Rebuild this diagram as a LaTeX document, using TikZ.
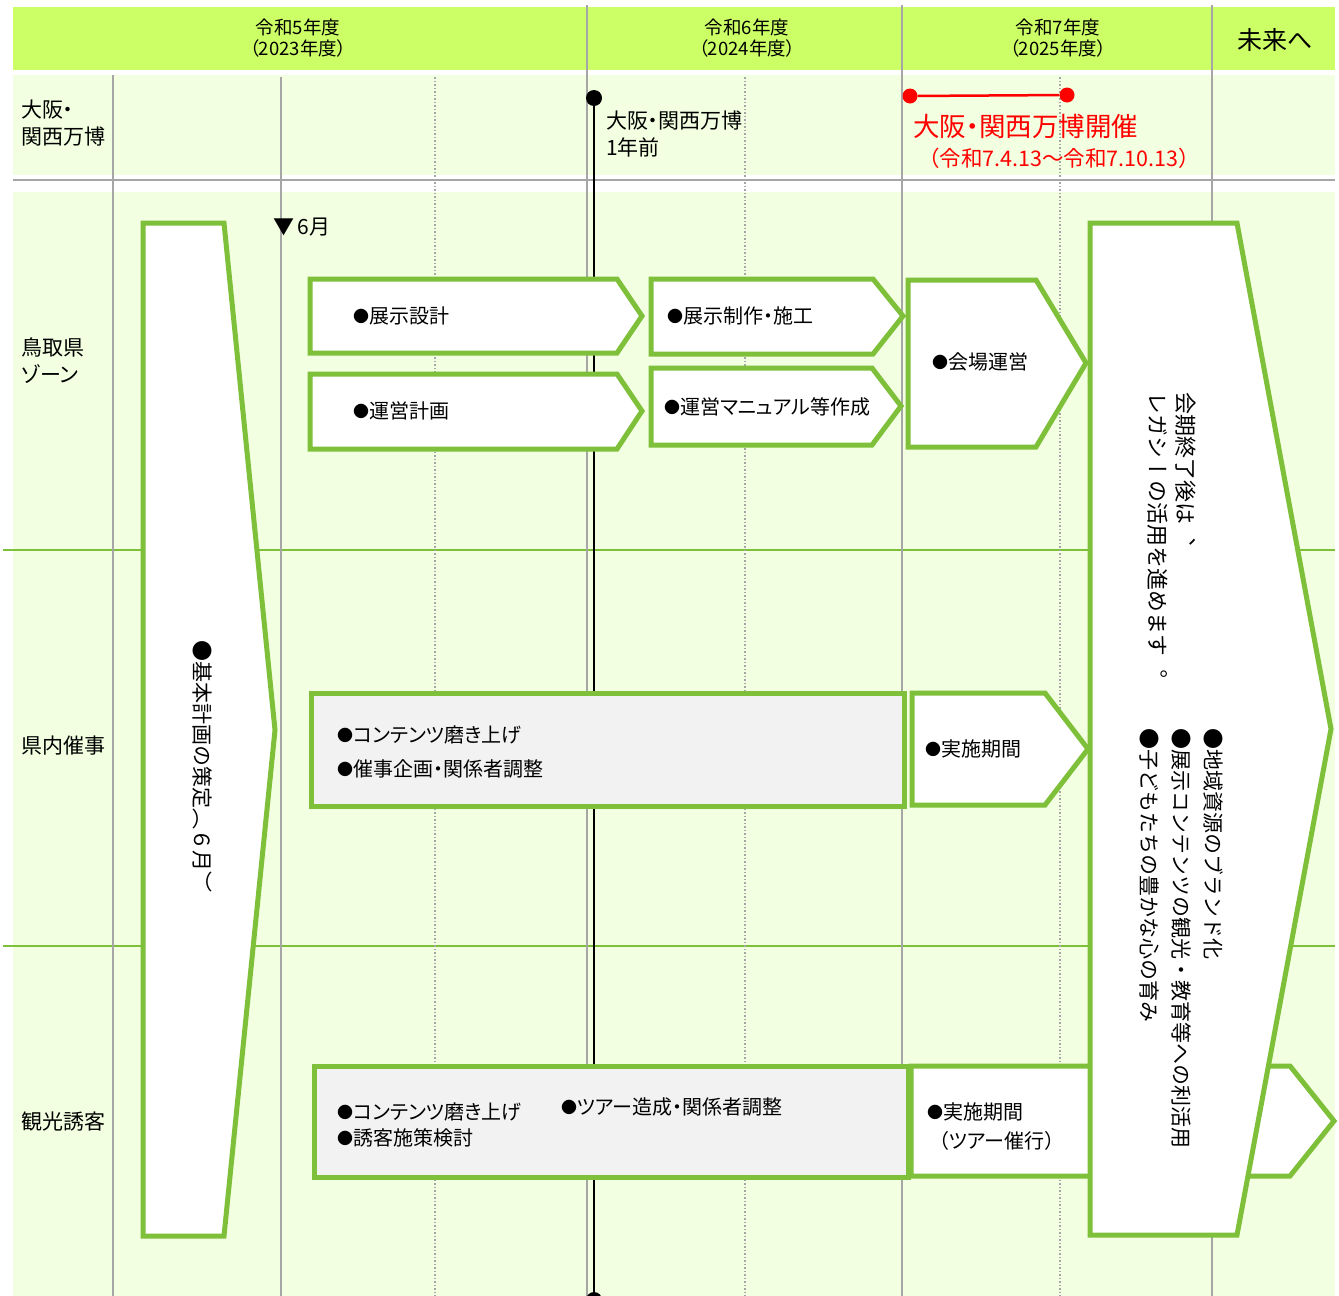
\documentclass[tikz,border=0pt]{standalone}
\usepackage{fontspec}
\setmainfont[RawFeature=+palt]{Noto Sans CJK JP}
\newfontfamily\tatefont[Vertical=RotatedGlyphs]{Noto Sans CJK JP}
\newfontfamily\widefont{Noto Sans CJK JP}
\newcommand{\listdot}{\raisebox{1.5pt}{\fontsize{16}{16}\selectfont ●}}
\definecolor{headgreen}{HTML}{CCFF66}
\definecolor{palegreen}{HTML}{F2FFE0}
\definecolor{bargreen}{HTML}{7FC03A}
\definecolor{gridgray}{HTML}{A6A6A6}
\definecolor{boxgray}{HTML}{F2F2F2}

\begin{document}
\begin{tikzpicture}[x=1pt, y=-1pt, inner sep=0pt, font=\fontsize{20}{27}\selectfont,
  grid/.style={draw=gridgray, line width=2pt},
  subgrid/.style={draw=gridgray, line width=1.5pt, dotted},
  rowline/.style={draw=bargreen, line width=2.5pt},
  bar/.style={draw=bargreen, line width=5pt, fill=white, line join=miter},
  graybar/.style={bar, fill=boxgray},
  milestone/.style={circle, fill, minimum size=16pt},
  year/.style={align=center, font=\fontsize{18.5}{21}\selectfont},
  rowlabel/.style={right, align=left, font=\fontsize{21}{27}\selectfont},
  tate/.style={rotate=-90, right, align=left, font=\tatefont\fontsize{21}{#1}\selectfont}]
\useasboundingbox (0,0) rectangle (1339,1296);
\fill[headgreen] (13,7) rectangle (1335,70);
\fill[palegreen] (13,75) rectangle (1335,175);
\fill[palegreen] (13,192) rectangle (1335,1296);
\draw[grid] (13,180) -- (1335,180);
\draw[rowline] (3,550) -- (1335,550);
\draw[rowline] (3,946) -- (1335,946);
\draw[grid] (113,75) -- (113,1296);
\draw[grid, line width=2.5pt] (281,77) -- (281,1296);
\foreach \x in {435,745,1060}
  \draw[subgrid] (\x,77) -- (\x,1296);
\foreach \x in {587,902,1212}
  \draw[grid] (\x,5) -- (\x,1296);
\node[year] (fy2023) at (298,38) {令和5年度\\（2023年度）};
\node[year] (fy2024) at (747,38) {令和6年度\\（2024年度）};
\node[year] (fy2025) at (1058,38) {令和7年度\\（2025年度）};
\node[font=\fontsize{25}{30}\selectfont] (future) at (1275,40) {未来へ};
\node[rowlabel] (expo) at (21,123) {大阪・\\関西万博};
\node[rowlabel] (zone) at (21,361) {鳥取県\\ゾーン};
\node[rowlabel] (event) at (21,746) {県内催事};
\node[rowlabel] (tour) at (21,1122) {観光誘客};
\node[milestone] (preyear) at (594,98) {};
\node[milestone] (postyear) at (594,1300) {};
\draw[line width=2pt] (preyear.center) -- (postyear.center);
\node[rowlabel] (pretext) at (606,134) {大阪・関西万博\\1年前};
\node[milestone, red, minimum size=15pt] (open) at (910,96) {};
\node[milestone, red, minimum size=15pt] (close) at (1067,95) {};
\draw[red, line width=2.5pt] (open) -- (close);
\node[right, red, font=\fontsize{26.5}{30}\selectfont] (expotitle) at (913,126) {大阪・関西万博開催};
\node[right, red, font=\widefont\fontsize{21.5}{24}\selectfont] (expodate) at (918,158) {（令和7.4.13～令和7.10.13）};
\node[right, font=\fontsize{21}{27}\selectfont] (june) at (273,227) {▼\,6月};
\draw[bar] (143,223) -- (224,223) -- (275,730) -- (224,1236) -- (143,1236) -- cycle;
\node[tate=28] (plan) at (202,640) {●基本計画の策定（６月）};
\draw[bar] (310,279) -- (617,279) -- (642,316) -- (617,353) -- (310,353) -- cycle;
\node[right] (design) at (353,316) {\listdot 展示設計};
\draw[bar] (310,374) -- (617,374) -- (642,411) -- (617,449) -- (310,449) -- cycle;
\node[right] (opsplan) at (353,411) {\listdot 運営計画};
\draw[bar] (651,279) -- (873,279) -- (903,316) -- (873,354) -- (651,354) -- cycle;
\node[right] (build) at (667,316) {\listdot 展示制作・施工};
\draw[bar] (651,368) -- (872,368) -- (901,406) -- (872,445) -- (651,445) -- cycle;
\node[right] (manual) at (664,407) {\listdot 運営マニュアル等作成};
\draw[bar] (908,280) -- (1036,280) -- (1086,363) -- (1036,447) -- (908,447) -- cycle;
\node[right] (venue) at (932,362) {\listdot 会場運営};
\draw[graybar] (311,693) rectangle (904,806);
\node[right, align=left, font=\fontsize{20}{34}\selectfont] (eventprep) at (337,752) {\listdot コンテンツ磨き上げ\\\listdot 催事企画・関係者調整};
\draw[bar] (912,693) -- (1045,693) -- (1088,749) -- (1045,805) -- (912,805) -- cycle;
\node[right] (eventrun) at (925,749) {\listdot 実施期間};
\draw[graybar] (314,1066) rectangle (908,1177);
\node[right, align=left, font=\fontsize{20}{26}\selectfont] (tourprep) at (337,1125) {\listdot コンテンツ磨き上げ\\\listdot 誘客施策検討};
\node[right] (tourplan) at (561,1107) {\listdot ツアー造成・関係者調整};
\draw[bar] (911,1066) -- (1290,1066) -- (1334,1121) -- (1290,1176) -- (911,1176) -- cycle;
\node[right, align=left, font=\fontsize{20}{29}\selectfont] (tourrun) at (927,1127) {\listdot 実施期間\\\hspace*{12pt}（ツアー催行）};
\draw[bar] (1090,223) -- (1237,223) -- (1331,729) -- (1237,1235) -- (1090,1235) -- cycle;
\node[tate=28, font=\tatefont\fontsize{22}{28}\selectfont] (legacy) at (1172,392) {会期終了後は、\\レガシーの活用を進めます。};
\node[tate=32] (legacylist) at (1181,728) {●地域資源のブランド化\\●展示コンテンツの観光・教育等への利活用\\●子どもたちの豊かな心の育み};
\end{tikzpicture}
\end{document}
